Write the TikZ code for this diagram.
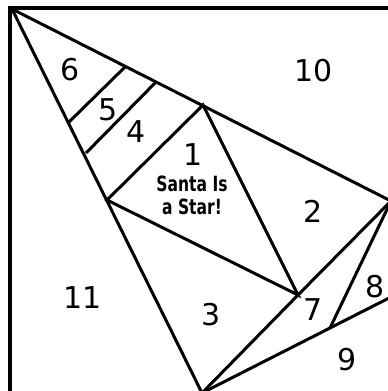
\documentclass[tikz,border=0pt]{standalone}
\usepackage{fontspec}
\setmainfont{DejaVu Sans}
\newfontfamily\condfont{DejaVu Sans}[FakeStretch=0.74]
\usetikzlibrary{positioning}

\tikzset{
  piece/.style={line width=3pt, line join=miter},
  frame/.style={line width=4pt},
  num/.style={font=\fontsize{30}{30}\selectfont, inner sep=0pt},
  motto/.style={font=\condfont\bfseries\fontsize{21}{23}\selectfont, align=center, inner sep=0pt}
}

\begin{document}
\begin{tikzpicture}[x=1pt, y=-1pt]
        \clip (0,0) rectangle (388,391);
        \fill[white] (0,0) rectangle (388,391);
        % outer frame
        \draw[frame] (10,8) rectangle (420,420);
        % main points of the tree
        \coordinate (top) at (12,9);
        \coordinate (apex) at (203,105);
        \coordinate (mid) at (107,200);
        \coordinate (star) at (298,295);
        \coordinate (tip) at (391,201);
        \coordinate (foot) at (202,393);
        \coordinate (knee) at (330,328);
        \coordinate (edge) at (393,296);
        % strips 4, 5, 6
        \coordinate (s1a) at (156,82);
        \coordinate (s1b) at (86,153);
        \coordinate (s2a) at (125,67);
        \coordinate (s2b) at (69,122);
        \draw[piece] (top) -- (tip);
        \draw[piece] (top) -- (foot);
        \draw[piece] (apex) -- (mid) -- (star) -- cycle;
        \draw[piece] (foot) -- (star) -- (tip);
        \draw[piece] (tip) -- (knee);
        \draw[piece] (foot) -- (knee) -- (edge);
        \draw[piece] (s1a) -- (s1b);
        \draw[piece] (s2a) -- (s2b);
        % numbers
        \node[num] (n1) at (193,155) {1};
        \node[num] (n2) at (313,211) {2};
        \node[num] (n3) at (211,315) {3};
        \node[num] (n4) at (136,132) {4};
        \node[num] (n5) at (108,110) {5};
        \node[num] (n6) at (70,70) {6};
        \node[num] (n7) at (313,310) {7};
        \node[num] (n8) at (375,287) {8};
        \node[num] (n9) at (347,360) {9};
        \node[num] (n10) at (314,71) {10};
        \node[num] (n11) at (83,298) {11};
        \node[motto] (santa) at (192,195) {Santa Is\\a Star!};
      \end{tikzpicture}
\end{document}
